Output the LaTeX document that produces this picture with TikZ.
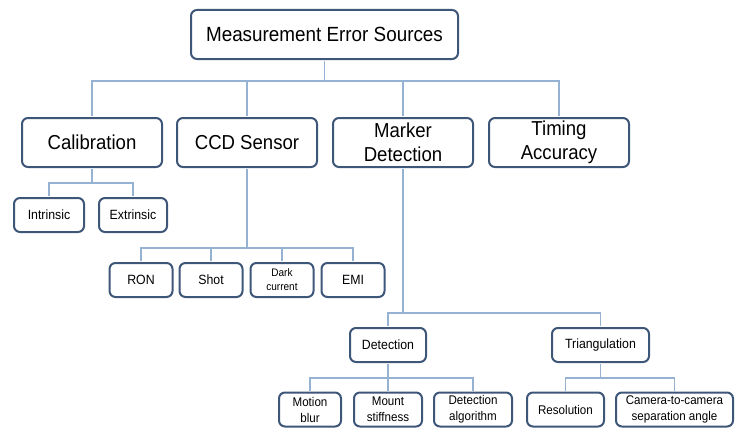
\documentclass[tikz,border=0pt]{standalone}
\usepackage{fontspec}
\setmainfont{Liberation Sans}[FakeStretch=0.92]
\usepackage{tikz}
\usetikzlibrary{positioning,calc}
\definecolor{boxblue}{RGB}{62,86,120}
\definecolor{linkblue}{RGB}{150,178,210}

\begin{document}
\begin{tikzpicture}[
  x=1pt, y=-1pt,
  box/.style={draw=boxblue,line width=2pt,rounded corners=6pt,fill=white,inner sep=0pt,align=center},
  big/.style={box,minimum width=140pt,minimum height=49pt,font=\fontsize{20.2}{24}\selectfont},
  small/.style={box,minimum height=34pt,font=\fontsize{13.4}{16}\selectfont},
  leaf/.style={box,minimum height=34pt,font=\fontsize{12.6}{16}\selectfont},
  link/.style={draw=linkblue,line width=1.3pt,shorten <=1pt,shorten >=1pt},
]
  \useasboundingbox (0,0) rectangle (735,428);

  % level 0 and 1
  \node[big,minimum width=267pt,font=\fontsize{20.5}{24}\selectfont] (root) at (324.5,34.5) {Measurement Error Sources};
  \node[big] (calib)  at (92,142.5)  {Calibration};
  \node[big] (ccd)    at (247,142.5) {CCD Sensor};
  \node[big] (marker) at (403,142.5) {Marker\\Detection};
  \node[big] (timing) at (559,142.5) {Timing\\Accuracy};

  % calibration
  \node[small,minimum width=70pt] (intr) at (49,215)  {Intrinsic};
  \node[small,minimum width=68pt] (extr) at (133,215) {Extrinsic};

  % ccd sensor
  \node[small,minimum width=63pt] (ron)  at (141,280) {RON};
  \node[small,minimum width=63pt] (shot) at (211,280) {Shot};
  \node[small,minimum width=63pt,font=\fontsize{10.9}{14}\selectfont] (dark) at (282,280) {Dark\\current};
  \node[small,minimum width=63pt] (emi)  at (353,280) {EMI};

  % marker detection
  \node[small,minimum width=76pt] (detect) at (388,345)   {Detection};
  \node[small,minimum width=97pt] (triang) at (600.5,345) {Triangulation};

  \node[leaf,minimum width=62pt]  (blur)   at (310,409.5)   {Motion\\blur};
  \node[leaf,minimum width=68pt]  (mount)  at (388,409.5)   {Mount\\stiffness};
  \node[leaf,minimum width=78pt]  (algo)   at (473,409.5)   {Detection\\algorithm};
  \node[leaf,minimum width=77pt]  (res)    at (565.5,409.5) {Resolution};
  \node[leaf,minimum width=117pt] (sepang) at (674.5,409.5) {Camera-to-camera\\separation angle};

  % buses
  \coordinate (bus0) at (0,81);
  \coordinate (bus1) at (0,183);
  \coordinate (bus2) at (0,248);
  \coordinate (bus3) at (0,313);
  \coordinate (bus4) at (0,378);

  \foreach \n in {calib,ccd,marker,timing}
    \draw[link] (root.south) -- (root.south |- bus0) -| (\n.north);
  \foreach \n in {intr,extr}
    \draw[link] (calib.south) -- (calib.south |- bus1) -| (\n.north);
  \foreach \n in {ron,shot,dark,emi}
    \draw[link] (ccd.south) -- (ccd.south |- bus2) -| (\n.north);
  \foreach \n in {detect,triang}
    \draw[link] (marker.south) -- (marker.south |- bus3) -| (\n.north);
  \foreach \n in {blur,mount,algo}
    \draw[link] (detect.south) -- (detect.south |- bus4) -| (\n.north);
  \foreach \n in {res,sepang}
    \draw[link] (triang.south) -- (triang.south |- bus4) -| (\n.north);
\end{tikzpicture}
\end{document}
